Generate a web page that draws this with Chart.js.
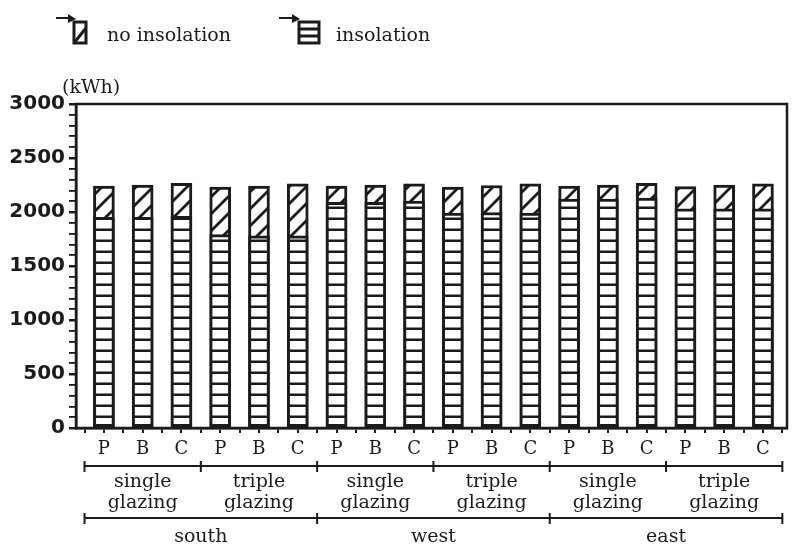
<!DOCTYPE html>
<html lang="en">
<head>
  <meta charset="UTF-8" />
  <title>Heating energy with and without insolation</title>
  <script src="https://cdn.jsdelivr.net/npm/chart.js"></script>
  <style>
    body {
      margin: 0;
      background: #fff;
    }
    .wrap {
      width: 796px;
      height: 547px;
    }
  </style>
</head>
<body>
  <div class="wrap"><canvas id="energyChart"></canvas></div>

  <script>
    // values (kWh)
    const variants = ['P', 'B', 'C', 'P', 'B', 'C', 'P', 'B', 'C', 'P', 'B', 'C', 'P', 'B', 'C', 'P', 'B', 'C'];
    const glazing = [['single', 'glazing'], ['triple', 'glazing'], ['single', 'glazing'], ['triple', 'glazing'], ['single', 'glazing'], ['triple', 'glazing']];
    const orientations = ['south', 'west', 'east'];
    const noInsolation = [2240, 2250, 2265, 2230, 2240, 2260, 2240, 2250, 2260, 2230, 2245, 2260, 2240, 2250, 2265, 2235, 2250, 2260];
    const insolation = [1950, 1950, 1960, 1790, 1780, 1780, 2090, 2090, 2100, 1990, 1995, 1990, 2120, 2120, 2130, 2030, 2030, 2030];
    const yMajorStep = 500;

    const ink = '#1b1b1b';
    const serif = 'DejaVu Serif';

    function diagonalPattern(size) {
      const c = document.createElement('canvas');
      c.width = c.height = size;
      const g = c.getContext('2d');
      g.fillStyle = '#fff';
      g.fillRect(0, 0, size, size);
      g.strokeStyle = ink;
      g.lineWidth = 2.8;
      g.beginPath();
      g.moveTo(-2, size + 2); g.lineTo(size + 2, -2);
      g.moveTo(-2, 2); g.lineTo(2, -2);
      g.moveTo(size - 2, size + 2); g.lineTo(size + 2, size - 2);
      g.stroke();
      return g.createPattern(c, 'repeat');
    }

    function stripePattern(h) {
      const c = document.createElement('canvas');
      c.width = 8;
      c.height = h;
      const g = c.getContext('2d');
      g.fillStyle = '#fff';
      g.fillRect(0, 0, 8, h);
      g.fillStyle = ink;
      g.fillRect(0, h - 2.5, 8, 2.5);
      return g.createPattern(c, 'repeat');
    }

    const diagFill = diagonalPattern(17);
    const stripeFill = stripePattern(11);

    // legend, unit label, frame and the two bracket rows under the axis
    const decorations = {
      id: 'decorations',
      afterDraw(chart) {
        const ctx = chart.ctx;
        const area = chart.chartArea;
        const x = chart.scales.x;
        ctx.save();
        ctx.strokeStyle = ink;
        ctx.fillStyle = ink;

        ctx.lineWidth = 2.5;
        ctx.strokeRect(area.left, area.top, area.right - area.left, area.bottom - area.top);

        ctx.font = '19px "' + serif + '"';
        ctx.textBaseline = 'middle';
        ctx.textAlign = 'left';
        ctx.fillText('(kWh)', 62, 88);

        // legend entries
        function arrow(x0, x1, y) {
          ctx.lineWidth = 2;
          ctx.beginPath();
          ctx.moveTo(x0, y); ctx.lineTo(x1 - 6, y);
          ctx.stroke();
          ctx.beginPath();
          ctx.moveTo(x1, y + 1); ctx.lineTo(x1 - 8, y - 4); ctx.lineTo(x1 - 8, y + 5);
          ctx.closePath();
          ctx.fill();
        }
        arrow(56, 76, 18);
        ctx.lineWidth = 3;
        ctx.strokeRect(74, 22, 12, 21);
        ctx.beginPath();
        ctx.moveTo(74, 43); ctx.lineTo(86, 28);
        ctx.stroke();
        ctx.fillText(chart.data.datasets[0].label, 107, 36);

        arrow(279, 300, 18);
        ctx.lineWidth = 3;
        ctx.strokeRect(299, 22, 20, 21);
        ctx.beginPath();
        ctx.moveTo(299, 29); ctx.lineTo(319, 29);
        ctx.moveTo(299, 36); ctx.lineTo(319, 36);
        ctx.stroke();
        ctx.fillText(chart.data.datasets[1].label, 336, 36);

        // bracket rows
        function bracketRow(y, groupSize, labels, textY) {
          const left = x.getPixelForValue(-0.5);
          const right = x.getPixelForValue(variants.length - 0.5);
          ctx.lineWidth = 2;
          ctx.beginPath();
          ctx.moveTo(left, y); ctx.lineTo(right, y);
          for (let b = -0.5; b <= variants.length; b += groupSize) {
            const px = x.getPixelForValue(b);
            ctx.moveTo(px, y - 5); ctx.lineTo(px, y + 6);
          }
          ctx.stroke();
          ctx.textAlign = 'center';
          labels.forEach((lab, k) => {
            const cx = x.getPixelForValue(k * groupSize + (groupSize - 1) / 2);
            const lines = Array.isArray(lab) ? lab : [lab];
            lines.forEach((t, j) => ctx.fillText(t, cx, textY + j * 21));
          });
        }
        ctx.font = '19px "' + serif + '"';
        bracketRow(466, 3, glazing, 482);
        bracketRow(518, 6, orientations, 537);

        ctx.restore();
      }
    };

    new Chart(document.getElementById('energyChart'), {
      type: 'bar',
      data: {
        datasets: [
          {
            label: 'no insolation',
            data: noInsolation.map((v, i) => ({ x: i, y: v })),
            backgroundColor: diagFill,
            borderColor: ink,
            borderWidth: 3,
            borderSkipped: false,
            barThickness: 21,
            grouped: false,
            order: 2
          },
          {
            label: 'insolation',
            data: insolation.map((v, i) => ({ x: i, y: v })),
            backgroundColor: stripeFill,
            borderColor: ink,
            borderWidth: 3,
            borderSkipped: false,
            barThickness: 21,
            grouped: false,
            order: 1
          }
        ]
      },
      options: {
        responsive: true,
        maintainAspectRatio: false,
        animation: false,
        layout: { padding: { top: 104, right: 9, left: 0, bottom: 0 } },
        plugins: {
          legend: { display: false },
          tooltip: { enabled: false }
        },
        scales: {
          x: {
            type: 'linear',
            min: -0.72,
            max: 17.62,
            offset: false,
            afterBuildTicks: s => {
              const t = [];
              for (let i = 0; i < variants.length; i++) t.push({ value: i - 0.5 }, { value: i });
              t.push({ value: variants.length - 0.5 });
              s.ticks = t;
            },
            afterFit: s => { s.height = 119; },
            ticks: {
              autoSkip: false,
              maxRotation: 0,
              padding: 6,
              color: ink,
              font: { family: serif, size: 18 },
              callback: v => (Number.isInteger(v) ? variants[v] : '')
            },
            grid: { offset: false, drawOnChartArea: false, tickLength: 5, color: ink, lineWidth: 2 },
            border: { color: ink, width: 2.5 }
          },
          y: {
            min: 0,
            max: 3000,
            afterFit: s => { s.width = 76; },
            ticks: {
              stepSize: 100,
              autoSkip: false,
              padding: 4,
              color: ink,
              font: { family: 'DejaVu Sans', weight: 'bold', size: 20 },
              callback: v => (v % yMajorStep === 0 ? String(v) : '')
            },
            grid: {
              drawOnChartArea: false,
              tickLength: 7,
              color: ink,
              lineWidth: c => (c.tick && c.tick.value % yMajorStep === 0 ? 2.5 : 1.8)
            },
            border: { color: ink, width: 2.5 }
          }
        }
      },
      plugins: [decorations]
    });
  </script>
</body>
</html>
